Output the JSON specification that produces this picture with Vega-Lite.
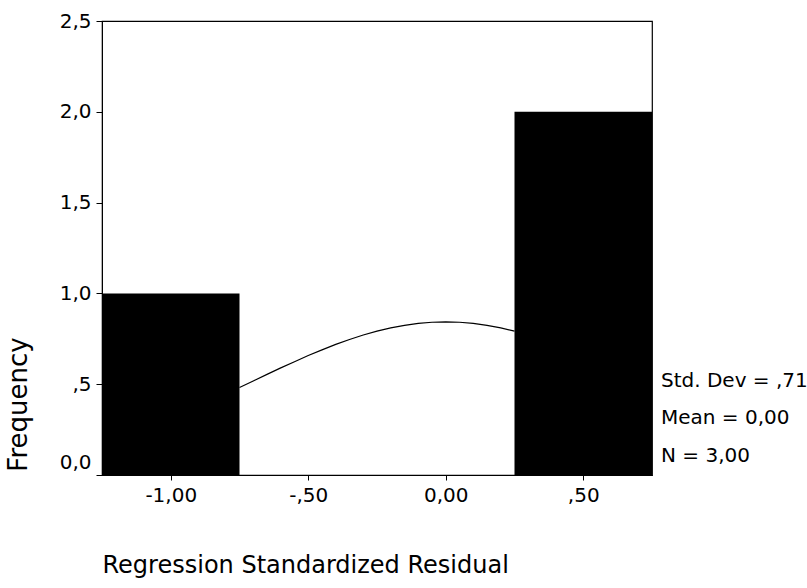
{
  "$schema": "https://vega.github.io/schema/vega-lite/v6.json",
  "width": 550,
  "height": 454,
  "autosize": {"type": "none"},
  "padding": {"left": 102, "top": 21, "right": 155, "bottom": 113},
  "background": "white",
  "config": {
    "view": {"stroke": "#000", "strokeWidth": 1.2},
    "font": "DejaVu Sans",
    "text": {"font": "DejaVu Sans"}
  },
  "datasets": {
    "bins": [
      {"bin_start": -1.25, "bin_end": -0.75, "frequency": 1},
      {"bin_start": 0.25, "bin_end": 0.75, "frequency": 2}
    ],
    "normal": [
      {"residual": -0.75, "density": 0.482},
      {"residual": -0.70, "density": 0.518},
      {"residual": -0.65, "density": 0.554},
      {"residual": -0.60, "density": 0.590},
      {"residual": -0.55, "density": 0.624},
      {"residual": -0.50, "density": 0.658},
      {"residual": -0.45, "density": 0.689},
      {"residual": -0.40, "density": 0.719},
      {"residual": -0.35, "density": 0.746},
      {"residual": -0.30, "density": 0.771},
      {"residual": -0.25, "density": 0.792},
      {"residual": -0.20, "density": 0.810},
      {"residual": -0.15, "density": 0.824},
      {"residual": -0.10, "density": 0.835},
      {"residual": -0.05, "density": 0.841},
      {"residual": 0.00, "density": 0.843},
      {"residual": 0.05, "density": 0.841},
      {"residual": 0.10, "density": 0.835},
      {"residual": 0.15, "density": 0.824},
      {"residual": 0.20, "density": 0.810},
      {"residual": 0.25, "density": 0.792}
    ],
    "stats": [{"stat": "summary"}]
  },
  "layer": [
    {
      "data": {"name": "normal"},
      "mark": {"type": "line", "color": "#000", "strokeWidth": 1.2},
      "encoding": {
        "x": {
          "field": "residual",
          "type": "quantitative",
          "scale": {"domain": [-1.25, 0.75], "nice": false, "zero": false},
          "axis": {
            "values": [-1, -0.5, 0, 0.5],
            "labelExpr": "datum.value == -1 ? '-1,00' : datum.value == -0.5 ? '-,50' : datum.value == 0.5 ? ',50' : '0,00'",
            "title": "Regression Standardized Residual",
            "grid": false,
            "domainColor": "#000",
            "tickColor": "#000",
            "tickSize": 5,
            "labelFontSize": 20,
            "labelColor": "#000",
            "labelPadding": 5,
            "labelOverlap": false,
            "labelFlush": false,
            "titleFontSize": 24,
            "titleFontWeight": "normal",
            "titleColor": "#000",
            "titleX": 0,
            "titleAlign": "left",
            "titleY": 97,
            "titleBaseline": "alphabetic"
          }
        },
        "y": {
          "field": "density",
          "type": "quantitative",
          "scale": {"domain": [0, 2.5], "nice": false},
          "axis": {
            "values": [0, 0.5, 1, 1.5, 2, 2.5],
            "labelExpr": "datum.value == 0.5 ? ',5' : replace(format(datum.value, '.1f'), '.', ',')",
            "labelOffset": {"condition": {"test": "datum.value == 0", "value": -13}, "value": 0},
            "title": "Frequency",
            "grid": false,
            "domainColor": "#000",
            "tickColor": "#000",
            "tickSize": 6,
            "labelFontSize": 20,
            "labelColor": "#000",
            "labelPadding": 5,
            "labelOverlap": false,
            "labelFlush": false,
            "titleFontSize": 26,
            "titleFontWeight": "normal",
            "titleColor": "#000",
            "titleAngle": -90,
            "titleX": -76,
            "titleY": 383,
            "titleAlign": "center",
            "titleBaseline": "alphabetic"
          }
        }
      }
    },
    {
      "data": {"name": "bins"},
      "mark": {"type": "rect", "color": "#000"},
      "encoding": {
        "x": {"field": "bin_start", "type": "quantitative"},
        "x2": {"field": "bin_end"},
        "y": {"field": "frequency", "type": "quantitative"},
        "y2": {"datum": 0}
      }
    },
    {
      "data": {"name": "stats"},
      "mark": {"type": "text", "align": "left", "baseline": "alphabetic", "fontSize": 20, "color": "#000", "dx": 9},
      "encoding": {"x": {"datum": 0.75}, "y": {"datum": 0.485}, "text": {"value": "Std. Dev = ,71"}}
    },
    {
      "data": {"name": "stats"},
      "mark": {"type": "text", "align": "left", "baseline": "alphabetic", "fontSize": 20, "color": "#000", "dx": 9},
      "encoding": {"x": {"datum": 0.75}, "y": {"datum": 0.281}, "text": {"value": "Mean = 0,00"}}
    },
    {
      "data": {"name": "stats"},
      "mark": {"type": "text", "align": "left", "baseline": "alphabetic", "fontSize": 20, "color": "#000", "dx": 9},
      "encoding": {"x": {"datum": 0.75}, "y": {"datum": 0.072}, "text": {"value": "N = 3,00"}}
    }
  ]
}
